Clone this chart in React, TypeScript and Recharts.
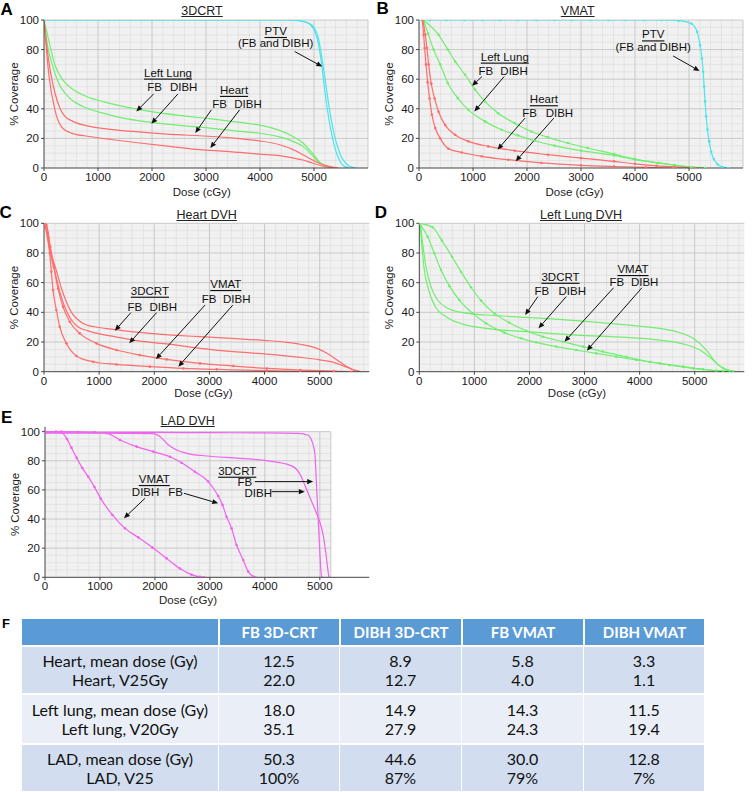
import React from "react";
import {
  LineChart,
  Line,
  XAxis,
  YAxis,
  ReferenceArea,
  ReferenceLine,
  ReferenceDot,
} from "recharts";

type Pt = [number, number];

const FONT = '"Liberation Sans", Arimo, Arial, sans-serif';
const RED = "#ff6d6d";
const GREEN = "#70ee70";
const CYAN = "#4ae4ee";
const MAGENTA = "#f062f0";
const AXIS = "#444";

const DOSE_TICKS = [0, 1000, 2000, 3000, 4000, 5000];
const PCT_TICKS = [0, 20, 40, 60, 80, 100];

// ---- A: 3DCRT (dose cGy, % coverage)
const A_PTV_FB: Pt[] = [[0, 100], [4500, 100], [4700, 99.6], [4850, 98.5], [4950, 96], [5030, 91], [5100, 80], [5150, 68], [5200, 52], [5250, 39], [5300, 28], [5350, 19], [5400, 12], [5450, 7], [5500, 3.5], [5550, 1.5], [5600, 0.4], [5650, 0]];
const A_PTV_DIBH: Pt[] = [[0, 100], [4550, 100], [4750, 99.5], [4900, 98], [5000, 95], [5080, 88], [5140, 76], [5190, 64], [5240, 51], [5290, 39], [5350, 27], [5400, 19], [5450, 13], [5500, 8], [5560, 4.5], [5620, 2], [5700, 0.6], [5780, 0]];
const A_LUNG_FB: Pt[] = [[0, 100], [90, 86], [200, 70], [383, 58], [537, 53], [784, 48.3], [1093, 44.9], [1463, 41.6], [1957, 38.2], [2512, 35.5], [3068, 33.3], [3623, 30.8], [3994, 29], [4364, 25.4], [4611, 21.3], [4796, 16.9], [4981, 9.5], [5105, 4], [5250, 1.2], [5400, 0]];
const A_LUNG_DIBH: Pt[] = [[0, 100], [74, 81], [154, 69.7], [259, 58.4], [475, 47.2], [722, 41.6], [1093, 37.1], [1463, 33.7], [1957, 31], [2512, 28.8], [3068, 27], [3623, 24.7], [3994, 23.5], [4364, 21], [4611, 18], [4796, 14.6], [4981, 8], [5105, 3.5], [5250, 1], [5400, 0]];
const A_HEART_FB: Pt[] = [[0, 100], [56, 81], [120, 65], [200, 51], [300, 40], [383, 35], [537, 31.5], [846, 28.1], [1154, 26.5], [1648, 24.7], [2265, 22.9], [3130, 21.3], [3623, 19.8], [3994, 18.3], [4364, 15.7], [4611, 12.4], [4796, 9], [4981, 5.2], [5167, 2.2], [5352, 0.6], [5450, 0]];
const A_HEART_DIBH: Pt[] = [[0, 100], [43, 81], [93, 62], [198, 40], [321, 28], [506, 23.6], [846, 21.3], [1278, 19.1], [1772, 16.9], [2327, 14.6], [2883, 12.4], [3377, 11.2], [3623, 10.5], [3994, 9.4], [4364, 8.3], [4611, 6.8], [4796, 5.4], [4981, 3.2], [5167, 1.2], [5352, 0.2], [5450, 0]];

// ---- B: VMAT
const B_PTV: Pt[] = [[0, 100], [196, 100], [515, 100], [840, 100], [1178, 100], [1497, 100], [1834, 100], [2172, 100], [2509, 100], [2834, 100], [3172, 100], [3509, 100], [3828, 100], [4160, 100], [4491, 100], [4810, 99.6], [5050, 97.5], [5150, 92], [5205, 83], [5240, 74], [5262, 65], [5280, 55], [5298, 45], [5318, 35], [5342, 26], [5372, 18], [5410, 11], [5460, 6], [5530, 2.5], [5620, 0.7], [5720, 0]];
const B_LUNG_FB: Pt[] = [[80, 100], [362, 90], [534, 80], [669, 72], [853, 63], [1037, 53], [1221, 45], [1466, 37], [1773, 30.3], [2080, 24.7], [2387, 20.7], [2755, 16.9], [3123, 13.5], [3613, 9.4], [4000, 6], [4430, 3.4], [4736, 1.8], [5043, 0.5], [5300, 0]];
const B_LUNG_DIBH: Pt[] = [[80, 100], [166, 91], [270, 80], [393, 70], [534, 57.3], [718, 47.2], [914, 39.3], [1221, 31.5], [1528, 25.8], [1834, 22], [2141, 18.4], [2509, 15.1], [3000, 11.7], [3613, 8.5], [4000, 5.6], [4430, 3.4], [4736, 2], [5043, 0.7], [5300, 0]];
const B_HEART_FB: Pt[] = [[70, 100], [117, 90], [147, 81], [178, 70], [227, 57], [288, 47], [362, 38], [485, 29], [669, 22.5], [914, 18], [1282, 14.6], [1773, 11.7], [2387, 9], [3000, 6.7], [3613, 4.5], [4000, 2.8], [4400, 1.5], [4736, 0.7], [5100, 0]];
const B_HEART_DIBH: Pt[] = [[60, 100], [86, 90], [104, 81], [129, 70], [160, 58], [196, 47], [239, 36], [301, 27], [393, 20], [546, 13], [791, 10.5], [1160, 7.9], [1650, 5.6], [2264, 3.4], [3000, 1.8], [3613, 1], [4200, 0.4], [4700, 0]];

// ---- C: Heart DVH
const C_3D_FB: Pt[] = [[0, 100], [42, 99], [120, 82], [224, 68], [345, 53], [497, 40], [650, 34], [770, 31.5], [1000, 29.8], [1194, 28.8], [1500, 27.3], [1921, 25.8], [2400, 24.5], [2830, 23.6], [3400, 22.4], [4042, 21], [4400, 19.8], [4648, 18.5], [4952, 15.7], [5133, 12.4], [5315, 7.9], [5497, 3.4], [5618, 1.1], [5739, 0]];
const C_3D_DIBH: Pt[] = [[0, 100], [12, 99], [100, 82], [194, 68], [285, 54], [406, 41], [588, 31], [800, 27.5], [1012, 25.5], [1300, 23.5], [1618, 21.3], [2224, 18.7], [2830, 15.7], [3436, 13.5], [4042, 11.9], [4648, 9.7], [5000, 8], [5255, 6.3], [5420, 4], [5558, 2], [5739, 0]];
const C_VM_FB: Pt[] = [[0, 100], [42, 99], [115, 84], [176, 70.8], [255, 56], [345, 43.8], [467, 33.7], [648, 25.8], [952, 19.1], [1315, 14.6], [1739, 11.2], [2224, 8.3], [2830, 5.6], [3436, 3.8], [4042, 2.2], [4648, 1.1], [5255, 0.4], [5558, 0]];
const C_VM_DIBH: Pt[] = [[0, 100], [12, 99], [73, 91], [103, 80], [133, 67.4], [164, 55], [224, 41.6], [285, 30.3], [406, 19.1], [588, 10.6], [891, 6.7], [1315, 4.9], [1921, 3.4], [2527, 2.2], [3133, 1.6], [4042, 0.7], [4648, 0.2], [5255, 0]];

// ---- D: Left Lung DVH
const D_3D_FB: Pt[] = [[0, 100], [18, 99], [61, 86.5], [121, 70.8], [212, 57.3], [333, 48.3], [515, 42.7], [788, 39.8], [1212, 38.2], [1939, 36.6], [2848, 34.4], [3758, 31.5], [4364, 29.2], [4667, 27], [4970, 22.5], [5212, 14.6], [5394, 5.6], [5576, 1.6], [5758, 0]];
const D_3D_DIBH: Pt[] = [[0, 100], [12, 99], [48, 84.3], [91, 68.5], [170, 55], [291, 43.8], [485, 37.1], [788, 32.1], [1212, 29.2], [1939, 27], [2848, 24.7], [3758, 23.1], [4364, 21.3], [4788, 18.7], [5091, 14.6], [5333, 7.9], [5515, 2.2], [5697, 0]];
const D_VM_FB: Pt[] = [[0, 100], [242, 97.3], [412, 88.3], [594, 77.5], [758, 67.4], [939, 56.9], [1121, 47.9], [1364, 39.3], [1636, 33], [1939, 27.6], [2242, 23.6], [2606, 20.2], [2970, 16.9], [3333, 13.5], [3758, 10.1], [4182, 6.7], [4545, 4.5], [4970, 2.2], [5394, 0.7], [5636, 0]];
const D_VM_DIBH: Pt[] = [[0, 100], [152, 91], [273, 79.8], [394, 68.5], [545, 57.8], [727, 48.3], [970, 39.3], [1212, 32.6], [1545, 26.3], [1848, 22.5], [2121, 19.8], [2485, 16.9], [2848, 14.6], [3212, 12.4], [3576, 10.1], [3939, 7.9], [4364, 5.6], [4788, 3.4], [5152, 1.6], [5515, 0.4], [5697, 0]];

// ---- E: LAD DVH
const E_3D_FB: Pt[] = [[0, 99.7], [1000, 99.6], [2000, 99.5], [3000, 99.3], [4000, 99.2], [4600, 98.8], [4788, 97.5], [4860, 93], [4909, 85], [4939, 64], [4970, 40], [5000, 17], [5030, 1], [5045, 0]];
const E_3D_DIBH: Pt[] = [[0, 99], [1000, 99], [1970, 98.6], [2091, 96.6], [2242, 91], [2394, 87.4], [2576, 85.1], [2939, 83.3], [3545, 81.7], [4152, 79.4], [4515, 76], [4650, 70], [4730, 63], [4818, 55], [4939, 44], [5000, 38], [5061, 29], [5109, 17], [5140, 7], [5165, 0]];
const E_VM_FB: Pt[] = [[0, 100], [300, 100], [600, 99.8], [900, 99.6], [1121, 99], [1364, 94.3], [1667, 89.7], [1970, 86.3], [2273, 82.8], [2485, 78.7], [2727, 72.5], [2970, 65.7], [3152, 55.8], [3230, 49.7], [3303, 41.6], [3394, 33.6], [3485, 22.2], [3606, 11.9], [3697, 3.9], [3788, 0.5], [3830, 0]];
const E_VM_DIBH: Pt[] = [[0, 100], [200, 100], [300, 99.5], [400, 95], [480, 89], [576, 82], [680, 75], [788, 69], [900, 62], [1015, 54], [1227, 42.8], [1455, 33.6], [1697, 27.4], [1955, 20.5], [2212, 13], [2455, 6], [2666, 1.8], [2818, 0.3], [2900, 0]];

// ---- F: table
const TABLE_COLS = ["", "FB 3D-CRT", "DIBH 3D-CRT", "FB VMAT", "DIBH VMAT"];
const TABLE_ROWS = ["Heart, mean dose (Gy)", "Heart, V25Gy", "Left lung, mean dose (Gy)", "Left lung, V20Gy", "LAD, mean dose (Gy)", "LAD, V25"];
const FB_3D = ["12.5", "22.0", "18.0", "35.1", "50.3", "100%"];
const DIBH_3D = ["8.9", "12.7", "14.9", "27.9", "44.6", "87%"];
const FB_VMAT = ["5.8", "4.0", "14.3", "24.3", "30.0", "79%"];
const DIBH_VMAT = ["3.3", "1.1", "11.5", "19.4", "12.8", "7%"];

type Series = { pts: Pt[]; color: string; dots?: boolean };
type Note = [number, number, string, boolean?];
type Arrow = [number, number, number, number];

const toRows = (pts: Pt[]) => pts.map(([d, v]) => ({ d, v }));

// background + fine grid drawn inside the reference area
const gridShape = (gx: number) => (p: any) => {
  const { x, y, width, height } = p;
  const sx = (d: number) => x + (width * d) / gx;
  const sy = (v: number) => y + height - (height * v) / 100;
  const minor: React.ReactNode[] = [];
  const major: React.ReactNode[] = [];
  for (let d = 200; d <= gx; d += 200) {
    const el = <line key={"x" + d} x1={sx(d)} x2={sx(d)} y1={y} y2={y + height} />;
    (d % 1000 === 0 || d === gx ? major : minor).push(el);
  }
  for (let v = 5; v <= 100; v += 5) {
    const el = <line key={"y" + v} x1={x} x2={x + width} y1={sy(v)} y2={sy(v)} />;
    (v % 20 === 0 ? major : minor).push(el);
  }
  return (
    <g>
      <rect x={x} y={y} width={width} height={height} fill="#f1f1f1" />
      <g stroke="#e0e0e0" strokeWidth={0.8}>{minor}</g>
      <g stroke="#c4c4c4" strokeWidth={0.9}>{major}</g>
    </g>
  );
};

const arrowShape = (p: any) => {
  const { x1, y1, x2, y2 } = p;
  const a = Math.atan2(y2 - y1, x2 - x1);
  const L = 6;
  const W = 2.6;
  const bx = x2 - L * Math.cos(a);
  const by = y2 - L * Math.sin(a);
  const pts = `${x2},${y2} ${bx + W * Math.sin(a)},${by - W * Math.cos(a)} ${bx - W * Math.sin(a)},${by + W * Math.cos(a)}`;
  return (
    <g>
      <line x1={x1} y1={y1} x2={bx} y2={by} stroke="#111" strokeWidth={1} />
      <polygon points={pts} fill="#111" />
    </g>
  );
};

const noteShape = (n: Note) => (p: any) => (
  <text
    x={p.cx}
    y={p.cy}
    textAnchor="middle"
    dominantBaseline="central"
    fontSize={11.5}
    fontFamily={FONT}
    fill="#111"
    style={n[3] ? { textDecoration: "underline" } : undefined}
  >
    {n[2]}
  </text>
);

interface PanelProps {
  letter: string;
  letterPos: [number, number];
  title: string;
  titlePos: [number, number];
  left: number;
  top: number;
  width: number;
  height: number;
  margin: { top: number; right: number; left: number; bottom: number };
  yWidth: number;
  xHeight: number;
  xMax: number;
  yMax: number;
  gridX: number;
  labelFrac: number;
  labelDy: number;
  series: Series[];
  notes: Note[];
  arrows: Arrow[];
}

function Panel(p: PanelProps) {
  const xLabel = (props: any) => {
    const vb = props.viewBox;
    return (
      <text x={vb.x + vb.width * p.labelFrac} y={vb.y + p.labelDy} textAnchor="middle" dominantBaseline="central" fontSize={11.5} fontFamily={FONT} fill="#222">
        Dose (cGy)
      </text>
    );
  };
  const yLabel = (props: any) => {
    const vb = props.viewBox;
    const cx = vb.x + vb.width - 30;
    const cy = vb.y + vb.height * (1 - 50 / p.yMax);
    return (
      <text x={cx} y={cy} transform={`rotate(-90, ${cx}, ${cy})`} textAnchor="middle" dominantBaseline="central" fontSize={11.5} fontFamily={FONT} fill="#222">
        % Coverage
      </text>
    );
  };
  const tick = { fontSize: 11.5, fill: "#1a1a1a", fontFamily: FONT };
  return (
    <>
      <div style={{ position: "absolute", left: p.letterPos[0], top: p.letterPos[1], transform: "translate(-50%, -50%)", fontFamily: FONT, fontWeight: 700, fontSize: 17 }}>
        {p.letter}
      </div>
      <div style={{ position: "absolute", left: p.titlePos[0], top: p.titlePos[1], transform: "translate(-50%, -50%)", fontFamily: FONT, fontSize: 12.5, color: "#222", textDecoration: "underline", whiteSpace: "nowrap" }}>
        {p.title}
      </div>
      <div style={{ position: "absolute", left: p.left, top: p.top }}>
        <LineChart width={p.width} height={p.height} margin={p.margin}>
          <XAxis
            type="number"
            dataKey="d"
            domain={[0, p.xMax]}
            ticks={DOSE_TICKS}
            interval={0}
            allowDataOverflow
            height={p.xHeight}
            tickSize={3}
            tickMargin={2}
            tick={tick}
            axisLine={{ stroke: AXIS }}
            tickLine={{ stroke: AXIS }}
            label={xLabel}
          />
          <YAxis
            type="number"
            domain={[0, p.yMax]}
            ticks={PCT_TICKS}
            interval={0}
            allowDataOverflow
            width={p.yWidth}
            tickSize={3}
            tickMargin={2}
            tick={tick}
            axisLine={{ stroke: AXIS }}
            tickLine={{ stroke: AXIS }}
            label={yLabel}
          />
          <ReferenceArea x1={0} x2={p.gridX} y1={0} y2={100} ifOverflow="visible" shape={gridShape(p.gridX)} />
          {p.series.map((s, i) => (
            <Line
              key={i}
              data={toRows(s.pts)}
              dataKey="v"
              type="monotone"
              stroke={s.color}
              strokeWidth={1.2}
              dot={s.dots ? { r: 1.3, fill: s.color, stroke: "none" } : false}
              activeDot={false}
              isAnimationActive={false}
            />
          ))}
          {p.arrows.map((a, i) => (
            <ReferenceLine key={"a" + i} segment={[{ x: a[0], y: a[1] }, { x: a[2], y: a[3] }]} ifOverflow="visible" shape={arrowShape} />
          ))}
          {p.notes.map((n, i) => (
            <ReferenceDot key={"n" + i} x={n[0]} y={n[1]} r={0} ifOverflow="visible" shape={noteShape(n)} />
          ))}
        </LineChart>
      </div>
    </>
  );
}

function Table() {
  const colW = [196, 121, 122, 122, 121];
  const cols = [TABLE_ROWS, FB_3D, DIBH_3D, FB_VMAT, DIBH_VMAT];
  const groups = [[0, 1], [2, 3], [4, 5]];
  const bands = ["#d2deef", "#eaeff7", "#d2deef"];
  const heights = [46, 48, 46];
  return (
    <div style={{ position: "absolute", left: 22, top: 619, width: 682, fontFamily: 'Lato, "Open Sans", sans-serif' }}>
      <div style={{ display: "flex", height: 26, background: "#5b9bd5" }}>
        {TABLE_COLS.map((c, i) => (
          <div key={i} style={{ width: colW[i], boxSizing: "border-box", borderLeft: i ? "2px solid #fff" : "none", color: "#fff", fontWeight: 700, fontSize: 15, display: "flex", alignItems: "center", justifyContent: "center" }}>
            {c}
          </div>
        ))}
      </div>
      {groups.map((g, gi) => (
        <div key={gi} style={{ display: "flex", height: heights[gi], marginTop: 2, background: bands[gi] }}>
          {cols.map((col, ci) => (
            <div key={ci} style={{ width: colW[ci], boxSizing: "border-box", borderLeft: ci ? "1px solid #fff" : "none", display: "flex", flexDirection: "column", alignItems: "center", justifyContent: "center", fontSize: 16, lineHeight: "19.5px", color: "#111" }}>
              {g.map((r) => (
                <div key={r}>{col[r]}</div>
              ))}
            </div>
          ))}
        </div>
      ))}
    </div>
  );
}

export default function App() {
  return (
    <div style={{ position: "absolute", left: 0, top: 0, width: 753, height: 792, background: "#fff", overflow: "hidden" }}>
      <Panel
        letter="A"
        letterPos={[6.7, 10]}
        title="3DCRT"
        titlePos={[202, 11]}
        left={0}
        top={0}
        width={376}
        height={200}
        margin={{ top: 20, right: 8, left: 0, bottom: 0 }}
        yWidth={44}
        xHeight={32}
        xMax={6000}
        yMax={100}
        gridX={6000}
        labelFrac={0.487}
        labelDy={24}
        series={[
          { pts: A_PTV_FB, color: CYAN },
          { pts: A_PTV_DIBH, color: CYAN },
          { pts: A_LUNG_FB, color: GREEN },
          { pts: A_LUNG_DIBH, color: GREEN },
          { pts: A_HEART_FB, color: RED },
          { pts: A_HEART_DIBH, color: RED },
        ]}
        notes={[
          [2296, 64.5, "Left Lung", true],
          [2049, 54.4, "FB"],
          [2586, 54.4, "DIBH"],
          [3519, 52.8, "Heart", true],
          [3253, 43.4, "FB"],
          [3778, 43.4, "DIBH"],
          [4290, 92.6, "PTV", true],
          [4290, 84.3, "(FB and DIBH)"],
        ]}
        arrows={[
          [2031, 50.1, 1710, 38.2],
          [2481, 50.1, 1988, 29.9],
          [3099, 39.3, 2802, 23.6],
          [3623, 39.3, 3080, 13.5],
          [4642, 78.7, 5154, 68.5],
        ]}
      />
      <Panel
        letter="B"
        letterPos={[382.7, 9.3]}
        title="VMAT"
        titlePos={[577.7, 11]}
        left={376}
        top={0}
        width={377}
        height={200}
        margin={{ top: 20, right: 10, left: 0, bottom: 0 }}
        yWidth={43}
        xHeight={32}
        xMax={6000}
        yMax={100}
        gridX={6000}
        labelFrac={0.48}
        labelDy={23.7}
        series={[
          { pts: B_PTV, color: CYAN, dots: true },
          { pts: B_LUNG_FB, color: GREEN, dots: true },
          { pts: B_LUNG_DIBH, color: GREEN, dots: true },
          { pts: B_HEART_FB, color: RED, dots: true },
          { pts: B_HEART_DIBH, color: RED, dots: true },
        ]}
        notes={[
          [1589, 75.3, "Left Lung", true],
          [1239, 65.6, "FB"],
          [1761, 65.6, "DIBH"],
          [2313, 46.5, "Heart", true],
          [2049, 37.5, "FB"],
          [2601, 37.5, "DIBH"],
          [4337, 90.3, "PTV", true],
          [4337, 82, "(FB and DIBH)"],
        ]}
        arrows={[
          [1166, 61.8, 982, 55.5],
          [1577, 61.8, 1025, 38.2],
          [1963, 33.7, 1454, 12.4],
          [2497, 33.7, 1791, 4.5],
          [4706, 75.7, 5196, 65.6],
        ]}
      />
      <Panel
        letter="C"
        letterPos={[5.7, 213.3]}
        title="Heart DVH"
        titlePos={[206.7, 215]}
        left={0}
        top={200}
        width={376}
        height={200}
        margin={{ top: 23.3, right: 6.7, left: 0, bottom: 0 }}
        yWidth={44}
        xHeight={28.3}
        xMax={5900}
        yMax={100}
        gridX={5900}
        labelFrac={0.49}
        labelDy={21}
        series={[
          { pts: C_3D_FB, color: RED },
          { pts: C_3D_DIBH, color: RED },
          { pts: C_VM_FB, color: RED, dots: true },
          { pts: C_VM_DIBH, color: RED, dots: true },
        ]}
        notes={[
          [1921, 54.6, "3DCRT", true],
          [1648, 43.8, "FB"],
          [2164, 43.8, "DIBH"],
          [3297, 59.1, "VMAT", true],
          [2994, 48.8, "FB"],
          [3497, 48.8, "DIBH"],
        ]}
        arrows={[
          [1576, 39.8, 1285, 27.6],
          [2042, 39.8, 1545, 19.1],
          [2921, 44.9, 2030, 8.5],
          [3424, 44.9, 2436, 3.4],
        ]}
      />
      <Panel
        letter="D"
        letterPos={[381, 212.7]}
        title="Left Lung DVH"
        titlePos={[581, 215]}
        left={376}
        top={200}
        width={377}
        height={200}
        margin={{ top: 23.3, right: 8.7, left: 0, bottom: 0 }}
        yWidth={43.3}
        xHeight={28.3}
        xMax={5900}
        yMax={100}
        gridX={5900}
        labelFrac={0.485}
        labelDy={21}
        series={[
          { pts: D_3D_FB, color: GREEN },
          { pts: D_3D_DIBH, color: GREEN },
          { pts: D_VM_FB, color: GREEN, dots: true },
          { pts: D_VM_DIBH, color: GREEN, dots: true },
        ]}
        notes={[
          [2564, 64, "3DCRT", true],
          [2224, 54.4, "FB"],
          [2776, 54.4, "DIBH"],
          [3879, 69.2, "VMAT", true],
          [3588, 60.7, "FB"],
          [4091, 60.7, "DIBH"],
        ]}
        arrows={[
          [2152, 50.6, 1921, 38.2],
          [2667, 50.6, 2164, 29.2],
          [3527, 56.6, 2636, 20.2],
          [4042, 56.6, 3042, 14.2],
        ]}
      />
      <Panel
        letter="E"
        letterPos={[6.7, 418.3]}
        title="LAD DVH"
        titlePos={[187.7, 420.7]}
        left={0}
        top={400}
        width={376}
        height={210}
        margin={{ top: 26.7, right: 6.7, left: 0, bottom: 0 }}
        yWidth={45}
        xHeight={32.7}
        xMax={5900}
        yMax={103.4}
        gridX={5200}
        labelFrac={0.441}
        labelDy={22.7}
        series={[
          { pts: E_3D_FB, color: MAGENTA },
          { pts: E_3D_DIBH, color: MAGENTA },
          { pts: E_VM_FB, color: MAGENTA, dots: true },
          { pts: E_VM_DIBH, color: MAGENTA, dots: true },
        ]}
        notes={[
          [1988, 67.5, "VMAT", true],
          [1830, 58.8, "DIBH"],
          [2376, 58.8, "FB"],
          [3497, 73.2, "3DCRT", true],
          [3636, 65.7, "FB"],
          [3879, 58.1, "DIBH"],
        ]}
        arrows={[
          [1818, 54.2, 1436, 40.5],
          [2527, 57.7, 3152, 50.8],
          [3818, 65.7, 4879, 65.7],
          [4121, 58.8, 4727, 58.8],
        ]}
      />
      <div style={{ position: "absolute", left: 6, top: 623.3, transform: "translate(-50%, -50%)", fontFamily: FONT, fontWeight: 700, fontSize: 13 }}>
        F
      </div>
      <Table />
    </div>
  );
}
